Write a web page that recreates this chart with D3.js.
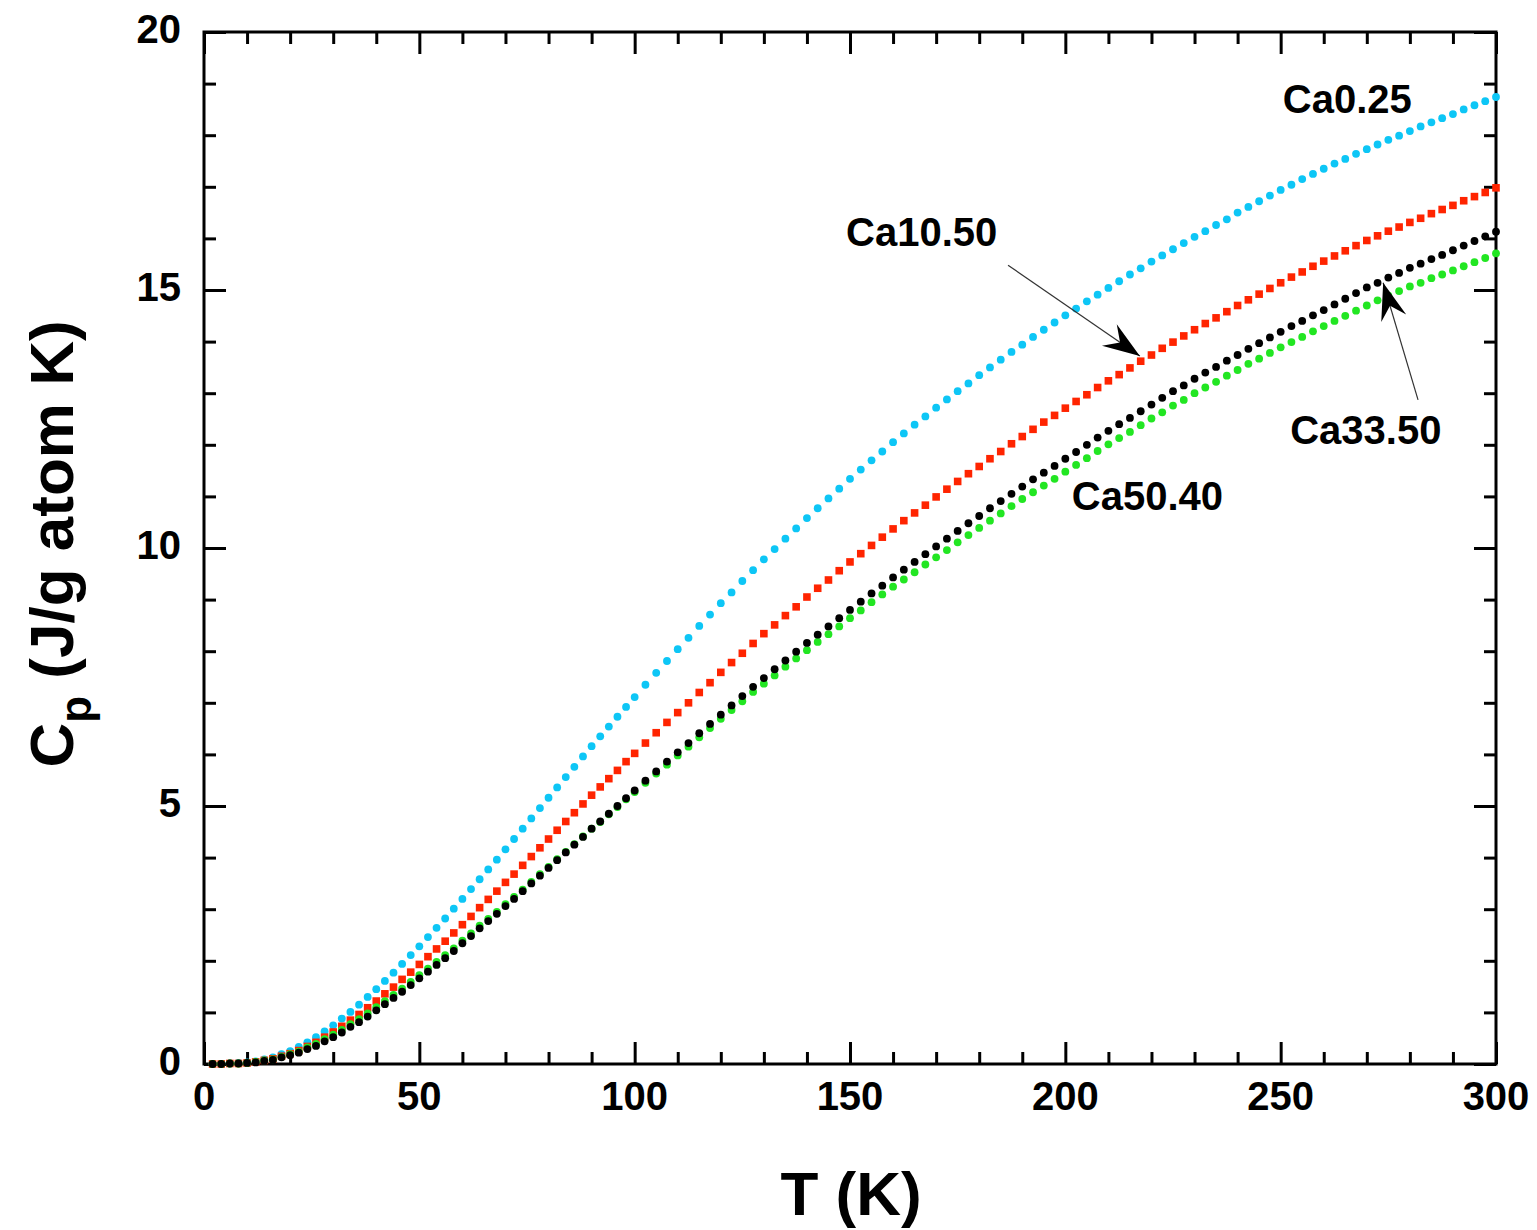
<!DOCTYPE html>
<html lang="en">
<head>
  <meta charset="UTF-8">
  <script src="https://cdn.jsdelivr.net/npm/d3@7/dist/d3.min.js"></script>
  <title>Cp vs T</title>
  <style>
    body { margin: 0; background: white; }
    text { font-family: "Liberation Sans", Arial, Helvetica, sans-serif; font-weight: bold; }
    .axis path { display: none; }
    .axis line { stroke: black; stroke-width: 3; }
  </style>
</head>
<body>
  <script>
    // temperatures (K)
    const temps = [2, 4, 6, 8, 10, 12, 14, 16, 18, 20, 22, 24, 26, 28, 30, 32, 34, 36, 38, 40,
      42, 44, 46, 48, 50, 52, 54, 56, 58, 60, 62, 64, 66, 68, 70, 72, 74, 76, 78, 80,
      82, 84, 86, 88, 90, 92, 94, 96, 98, 100,
      102.5, 105, 107.5, 110, 112.5, 115, 117.5, 120, 122.5, 125,
      127.5, 130, 132.5, 135, 137.5, 140, 142.5, 145, 147.5, 150,
      152.5, 155, 157.5, 160, 162.5, 165, 167.5, 170, 172.5, 175,
      177.5, 180, 182.5, 185, 187.5, 190, 192.5, 195, 197.5, 200,
      202.5, 205, 207.5, 210, 212.5, 215, 217.5, 220, 222.5, 225,
      227.5, 230, 232.5, 235, 237.5, 240, 242.5, 245, 247.5, 250,
      252.5, 255, 257.5, 260, 262.5, 265, 267.5, 270, 272.5, 275,
      277.5, 280, 282.5, 285, 287.5, 290, 292.5, 295, 297.5, 300];

    const cpCa025 = [0.00, 0.00, 0.01, 0.02, 0.03, 0.05, 0.09, 0.13, 0.19, 0.25, 0.33, 0.42, 0.52, 0.63, 0.75, 0.88, 1.01, 1.15, 1.30, 1.45,
      1.61, 1.77, 1.94, 2.11, 2.28, 2.46, 2.64, 2.82, 3.01, 3.20, 3.39, 3.58, 3.77, 3.96, 4.16, 4.36, 4.56, 4.76, 4.96, 5.16,
      5.36, 5.56, 5.76, 5.96, 6.16, 6.35, 6.54, 6.73, 6.92, 7.11,
      7.35, 7.58, 7.81, 8.04, 8.26, 8.49, 8.71, 8.93, 9.14, 9.36,
      9.57, 9.78, 9.98, 10.18, 10.38, 10.58, 10.77, 10.96, 11.15, 11.34,
      11.52, 11.70, 11.87, 12.05, 12.22, 12.39, 12.55, 12.72, 12.88, 13.04,
      13.19, 13.35, 13.50, 13.65, 13.80, 13.94, 14.09, 14.23, 14.37, 14.51,
      14.64, 14.78, 14.91, 15.04, 15.17, 15.30, 15.42, 15.55, 15.67, 15.79,
      15.91, 16.03, 16.14, 16.26, 16.37, 16.50, 16.61, 16.72, 16.83, 16.94,
      17.04, 17.15, 17.25, 17.35, 17.45, 17.54, 17.64, 17.73, 17.82, 17.91,
      17.99, 18.08, 18.17, 18.25, 18.33, 18.41, 18.50, 18.58, 18.66, 18.74];

    const cpCa1050 = [0.00, 0.00, 0.01, 0.01, 0.02, 0.04, 0.07, 0.10, 0.15, 0.20, 0.26, 0.34, 0.42, 0.52, 0.62, 0.73, 0.85, 0.96, 1.09, 1.22,
      1.36, 1.49, 1.64, 1.78, 1.93, 2.08, 2.23, 2.38, 2.54, 2.70, 2.86, 3.03, 3.19, 3.35, 3.52, 3.68, 3.85, 4.02, 4.19, 4.36,
      4.53, 4.70, 4.87, 5.04, 5.21, 5.37, 5.53, 5.69, 5.86, 6.02,
      6.22, 6.42, 6.62, 6.81, 7.00, 7.20, 7.39, 7.59, 7.78, 7.96,
      8.15, 8.34, 8.51, 8.69, 8.86, 9.05, 9.22, 9.38, 9.56, 9.73,
      9.89, 10.05, 10.21, 10.37, 10.53, 10.68, 10.83, 10.99, 11.14, 11.29,
      11.44, 11.58, 11.73, 11.87, 12.02, 12.16, 12.30, 12.44, 12.57, 12.71,
      12.84, 12.97, 13.11, 13.24, 13.36, 13.49, 13.62, 13.74, 13.87, 13.99,
      14.11, 14.23, 14.35, 14.46, 14.58, 14.70, 14.81, 14.92, 15.03, 15.14,
      15.25, 15.35, 15.46, 15.56, 15.66, 15.76, 15.86, 15.96, 16.05, 16.14,
      16.22, 16.31, 16.39, 16.48, 16.56, 16.64, 16.73, 16.81, 16.89, 16.98];

    const cpCa3350 = [0.00, 0.00, 0.01, 0.01, 0.02, 0.03, 0.06, 0.08, 0.13, 0.17, 0.22, 0.29, 0.35, 0.44, 0.52, 0.61, 0.72, 0.81, 0.92, 1.04,
      1.16, 1.28, 1.40, 1.53, 1.66, 1.79, 1.92, 2.05, 2.19, 2.34, 2.48, 2.63, 2.77, 2.91, 3.06, 3.20, 3.35, 3.50, 3.65, 3.80,
      3.95, 4.10, 4.25, 4.40, 4.56, 4.70, 4.85, 5.00, 5.15, 5.30,
      5.49, 5.67, 5.86, 6.04, 6.22, 6.41, 6.59, 6.77, 6.95, 7.13,
      7.31, 7.48, 7.65, 7.82, 7.99, 8.16, 8.32, 8.48, 8.64, 8.80,
      8.96, 9.12, 9.27, 9.43, 9.58, 9.73, 9.88, 10.03, 10.18, 10.33,
      10.48, 10.62, 10.77, 10.91, 11.05, 11.19, 11.33, 11.46, 11.59, 11.73,
      11.86, 12.00, 12.14, 12.27, 12.40, 12.52, 12.65, 12.78, 12.91, 13.04,
      13.15, 13.28, 13.40, 13.51, 13.63, 13.74, 13.86, 13.97, 14.08, 14.19,
      14.30, 14.40, 14.51, 14.61, 14.72, 14.83, 14.94, 15.05, 15.14, 15.24,
      15.33, 15.43, 15.51, 15.60, 15.68, 15.77, 15.86, 15.95, 16.04, 16.13];

    const cpCa5040 = [0.00, 0.00, 0.01, 0.01, 0.02, 0.04, 0.07, 0.09, 0.14, 0.19, 0.24, 0.32, 0.39, 0.48, 0.57, 0.66, 0.77, 0.87, 0.98, 1.10,
      1.22, 1.34, 1.46, 1.59, 1.72, 1.85, 1.98, 2.11, 2.24, 2.39, 2.53, 2.68, 2.81, 2.95, 3.10, 3.24, 3.38, 3.53, 3.68, 3.82,
      3.97, 4.11, 4.26, 4.41, 4.56, 4.69, 4.84, 4.98, 5.13, 5.27,
      5.45, 5.63, 5.80, 5.98, 6.15, 6.33, 6.51, 6.69, 6.86, 7.03,
      7.21, 7.37, 7.53, 7.70, 7.86, 8.02, 8.18, 8.33, 8.48, 8.64,
      8.79, 8.95, 9.10, 9.25, 9.39, 9.53, 9.68, 9.82, 9.96, 10.11,
      10.25, 10.39, 10.53, 10.67, 10.81, 10.95, 11.08, 11.21, 11.34, 11.48,
      11.61, 11.74, 11.88, 12.01, 12.13, 12.25, 12.38, 12.51, 12.63, 12.76,
      12.87, 13.00, 13.11, 13.22, 13.34, 13.45, 13.57, 13.67, 13.78, 13.89,
      13.99, 14.09, 14.20, 14.30, 14.40, 14.50, 14.60, 14.70, 14.80, 14.89,
      14.98, 15.07, 15.14, 15.23, 15.30, 15.38, 15.46, 15.54, 15.62, 15.71];

    const xTicks = [0, 50, 100, 150, 200, 250, 300];
    const yTicks = [0, 5, 10, 15, 20];

    // labels (left edge / baseline in data units)
    const labelNames = ["Ca0.25", "Ca10.50", "Ca33.50", "Ca50.40"];
    const labelT = [250.5, 149.1, 252.2, 201.5];
    const labelCp = [18.43, 15.85, 12.01, 10.73];

    // arrows: from -> to, in data units
    const arrowFrom = [[186.7, 15.48], [281.9, 12.87]];
    const arrowTo = [[217.3, 13.72], [273.8, 15.14]];

    const W = 1537, H = 1230;
    const m = { left: 204, top: 32, right: 1496, bottom: 1064 };

    const svg = d3.select('body').append('svg')
      .attr('width', W)
      .attr('height', H);

    const x = d3.scaleLinear().domain([0, 300]).range([m.left, m.right]);
    const y = d3.scaleLinear().domain([0, 20]).range([m.bottom, m.top]);

    /******************** axes (ticks on all sides, inward) ********************/
    const minorX = d3.range(0, 301, 10).filter(v => v % 50 !== 0);
    const minorY = d3.range(0, 21, 1).filter(v => v % 5 !== 0);

    const addAxis = (axis, tx, ty) => svg.append('g').attr('class', 'axis')
      .attr('transform', `translate(${tx},${ty})`).call(axis);

    addAxis(d3.axisBottom(x).tickValues(xTicks).tickSize(-22).tickFormat(''), 0, m.bottom);
    addAxis(d3.axisBottom(x).tickValues(minorX).tickSize(-12).tickFormat(''), 0, m.bottom);
    addAxis(d3.axisTop(x).tickValues(xTicks).tickSize(-22).tickFormat(''), 0, m.top);
    addAxis(d3.axisTop(x).tickValues(minorX).tickSize(-12).tickFormat(''), 0, m.top);
    addAxis(d3.axisLeft(y).tickValues(yTicks).tickSize(-22).tickFormat(''), m.left, 0);
    addAxis(d3.axisLeft(y).tickValues(minorY).tickSize(-12).tickFormat(''), m.left, 0);
    addAxis(d3.axisRight(y).tickValues(yTicks).tickSize(-22).tickFormat(''), m.right, 0);
    addAxis(d3.axisRight(y).tickValues(minorY).tickSize(-12).tickFormat(''), m.right, 0);

    svg.append('rect')
      .attr('x', m.left).attr('y', m.top)
      .attr('width', m.right - m.left).attr('height', m.bottom - m.top)
      .attr('fill', 'none').attr('stroke', 'black').attr('stroke-width', 3);

    // tick labels
    svg.append('g').selectAll('text').data(xTicks).enter().append('text')
      .attr('x', d => x(d)).attr('y', m.bottom + 46)
      .attr('text-anchor', 'middle').attr('font-size', 40)
      .text(d => d);
    svg.append('g').selectAll('text').data(yTicks).enter().append('text')
      .attr('x', m.left - 23).attr('y', d => y(d) + 11)
      .attr('text-anchor', 'end').attr('font-size', 40)
      .text(d => d);

    // axis titles
    svg.append('text')
      .attr('x', (m.left + m.right) / 2 + 1).attr('y', 1215)
      .attr('text-anchor', 'middle').attr('font-size', 62)
      .text('T (K)');

    const yt = svg.append('text')
      .attr('transform', `translate(73,${(m.top + m.bottom) / 2 - 4}) rotate(-90)`)
      .attr('text-anchor', 'middle').attr('font-size', 62);
    yt.append('tspan').text('C');
    yt.append('tspan').attr('font-size', 44).attr('dy', 18).text('p');
    yt.append('tspan').attr('dy', -18).text(' (J/g atom K)');

    /******************** data ********************/
    const series = [
      { vals: cpCa025, color: '#0DC6F6', shape: 'circle' },
      { vals: cpCa1050, color: '#FF2400', shape: 'square' },
      { vals: cpCa5040, color: '#22E622', shape: 'circle' },
      { vals: cpCa3350, color: '#000000', shape: 'circle' }
    ];

    series.forEach(s => {
      const pts = temps.map((t, i) => [t, s.vals[i]]);
      const g = svg.append('g');
      if (s.shape === 'circle') {
        g.selectAll('circle').data(pts).enter().append('circle')
          .attr('cx', d => x(d[0])).attr('cy', d => y(d[1]))
          .attr('r', 3.9).attr('fill', s.color);
      } else {
        g.selectAll('rect').data(pts).enter().append('rect')
          .attr('x', d => x(d[0]) - 3.8).attr('y', d => y(d[1]) - 3.8)
          .attr('width', 7.6).attr('height', 7.6).attr('fill', s.color);
      }
    });

    /******************** annotations ********************/
    svg.append('g').selectAll('text').data(labelNames).enter().append('text')
      .attr('x', (d, i) => x(labelT[i])).attr('y', (d, i) => y(labelCp[i]))
      .attr('font-size', 40)
      .text(d => d);

    arrowFrom.forEach((f, i) => {
      const x1 = x(f[0]), y1 = y(f[1]);
      const x2 = x(arrowTo[i][0]), y2 = y(arrowTo[i][1]);
      const ang = Math.atan2(y2 - y1, x2 - x1) * 180 / Math.PI;
      svg.append('line')
        .attr('x1', x1).attr('y1', y1).attr('x2', x2).attr('y2', y2)
        .attr('stroke', '#333').attr('stroke-width', 1.2);
      svg.append('path')
        .attr('d', 'M0,0 L-37,-13 L-24,0 L-37,13 Z')
        .attr('fill', 'black')
        .attr('transform', `translate(${x2},${y2}) rotate(${ang})`);
    });
  </script>
</body>
</html>
